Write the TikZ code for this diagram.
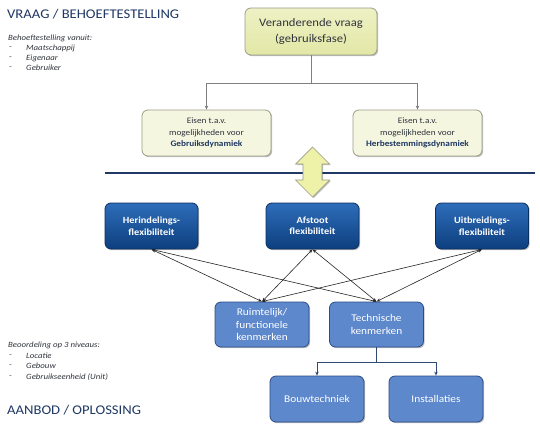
\documentclass[tikz,border=0pt]{standalone}
\usepackage{fontspec}
\setmainfont[FakeStretch=1.1]{Carlito}
\usetikzlibrary{shadows,arrows.meta}
\definecolor{navy}{HTML}{1F3864}
\definecolor{txtgray}{HTML}{30343C}
\definecolor{ylwA}{HTML}{EEF1C4}
\definecolor{ylwB}{HTML}{E2E7A6}
\definecolor{ylwL}{HTML}{F5F6E0}
\definecolor{ylwBd}{HTML}{9C9E88}
\definecolor{arrY}{HTML}{EDF2A8}
\definecolor{dbTop}{HTML}{2E6DBA}
\definecolor{dbBot}{HTML}{0D3F7E}
\definecolor{dbBd}{HTML}{0B2F5E}
\definecolor{mb}{HTML}{5D88CC}
\definecolor{mbBd}{HTML}{2C4C84}
\definecolor{conn}{HTML}{7F7F7F}
\definecolor{conn2}{HTML}{2E4A70}
\begin{document}
\begin{tikzpicture}[x=1pt,y=-1pt,
  shadowed/.style={drop shadow={shadow xshift=1.2pt,shadow yshift=-1.2pt,opacity=0.25,fill=black}},
  ybox/.style={draw=ylwBd,line width=0.8pt,rounded corners=6pt,shadowed,align=center,inner sep=1pt},
  topbox/.style={ybox,top color=ylwA,bottom color=ylwB,minimum width=132pt,minimum height=47pt,font=\fontsize{11.5}{16}\selectfont,text=txtgray},
  eisbox/.style={ybox,fill=ylwL,minimum width=129pt,minimum height=46pt,font=\fontsize{8.4}{11.5}\selectfont,text=txtgray},
  dbox/.style={draw=dbBd,line width=0.8pt,rounded corners=6pt,top color=dbTop,bottom color=dbBot,shadowed,minimum width=93pt,minimum height=46pt,align=center,text=white,font=\bfseries\fontsize{9.4}{11.5}\selectfont},
  mbox/.style={draw=mbBd,line width=0.8pt,rounded corners=6pt,fill=mb,shadowed,minimum width=94pt,minimum height=46pt,align=center,text=white,font=\fontsize{10.3}{12.5}\selectfont},
  treeline/.style={draw=conn,line width=0.8pt},
  treearrow/.style={treeline,-{Stealth[length=4pt,width=3.5pt]}},
  crossarrow/.style={draw=black!85,line width=0.6pt,{Stealth[length=4pt,width=3pt]}-{Stealth[length=4pt,width=3pt]}},
  lowline/.style={draw=conn2,line width=1pt},
  lowarrow/.style={lowline,-{Stealth[length=4pt,width=3.5pt]}},
  heading/.style={anchor=west,text=navy,font=\fontsize{13.3}{16}\selectfont,inner sep=0pt},
  small/.style={anchor=west,text=txtgray,font=\itshape\fontsize{8}{9}\selectfont,inner sep=0pt}
]
\useasboundingbox[fill=white] (0,0) rectangle (540,428);

% headings and side notes
\node[heading] (h1) at (7,14) {VRAAG / BEHOEFTESTELLING};
\node[small] (s1) at (8,38) {Behoeftestelling vanuit:};
\node[small] (s1a) at (9,48) {-};
\node[small] (s1b) at (26,48) {Maatschappij};
\node[small] (s1c) at (9,58) {-};
\node[small] (s1d) at (26,58) {Eigenaar};
\node[small] (s1e) at (9,68) {-};
\node[small] (s1f) at (26,68) {Gebruiker};

\node[small] (s2) at (8,345) {Beoordeling op 3 niveaus:};
\node[small] (s2a) at (9,356) {-};
\node[small] (s2b) at (26,356) {Locatie};
\node[small] (s2c) at (9,366) {-};
\node[small] (s2d) at (26,366) {Gebouw};
\node[small] (s2e) at (9,377) {-};
\node[small] (s2f) at (26,377) {Gebruikseenheid (Unit)};
\node[heading] (h2) at (7,410) {AANBOD / OPLOSSING};

% top part
\node[topbox] (top) at (311,31.5) {Veranderende vraag\\(gebruiksfase)};
\node[eisbox] (eisL) at (206.5,133) {Eisen t.a.v.\\mogelijkheden voor\\\textcolor{navy}{\bfseries Gebruiksdynamiek}};
\node[eisbox] (eisR) at (417.5,133) {Eisen t.a.v.\\mogelijkheden voor\\\textcolor{navy}{\bfseries Herbestemmingsdynamiek}};
\coordinate (j1) at (311,83);
\draw[treeline] (top.south) -- (j1);
\draw[treearrow] (j1) -| (eisL.north);
\draw[treearrow] (j1) -| (eisR.north);

% divider line
\coordinate (dl) at (105,173);
\coordinate (dr) at (535,173);
\draw[navy,line width=2.2pt] (dl) -- (dr);

% double arrow
\draw[draw=ylwBd,line width=0.7pt,fill=arrY,shadowed]
  (312.5,147) -- (329.5,164) -- (322,164) -- (322,180) -- (329.5,180) -- (312.5,197)
  -- (295.5,180) -- (303,180) -- (303,164) -- (295.5,164) -- cycle;

% flexibility boxes
\node[dbox] (b1) at (151.5,226) {Herindelings-\\flexibiliteit};
\node[dbox] (b2) at (312.5,226) {Afstoot\\flexibiliteit};
\node[dbox] (b3) at (482,226) {Uitbreidings-\\flexibiliteit};

% characteristics
\node[mbox,minimum height=45pt] (ruim) at (262,324.5) {Ruimtelijk/\\functionele\\kenmerken};
\node[mbox,minimum height=45pt] (tech) at (376.5,324.5) {Technische\\kenmerken};
\node[mbox] (bouw) at (317,399) {Bouwtechniek};
\node[mbox] (inst) at (436,399) {Installaties};

% cross arrows
\foreach \u in {b1,b2,b3}{
  \draw[crossarrow] (\u.south) -- (ruim.north);
  \draw[crossarrow] (\u.south) -- (tech.north);
}

% lower tree
\coordinate (j2) at (376.5,362);
\draw[lowline] (tech.south) -- (j2);
\draw[lowarrow] (j2) -| (bouw.north);
\draw[lowarrow] (j2) -| (inst.north);
\end{tikzpicture}
\end{document}
